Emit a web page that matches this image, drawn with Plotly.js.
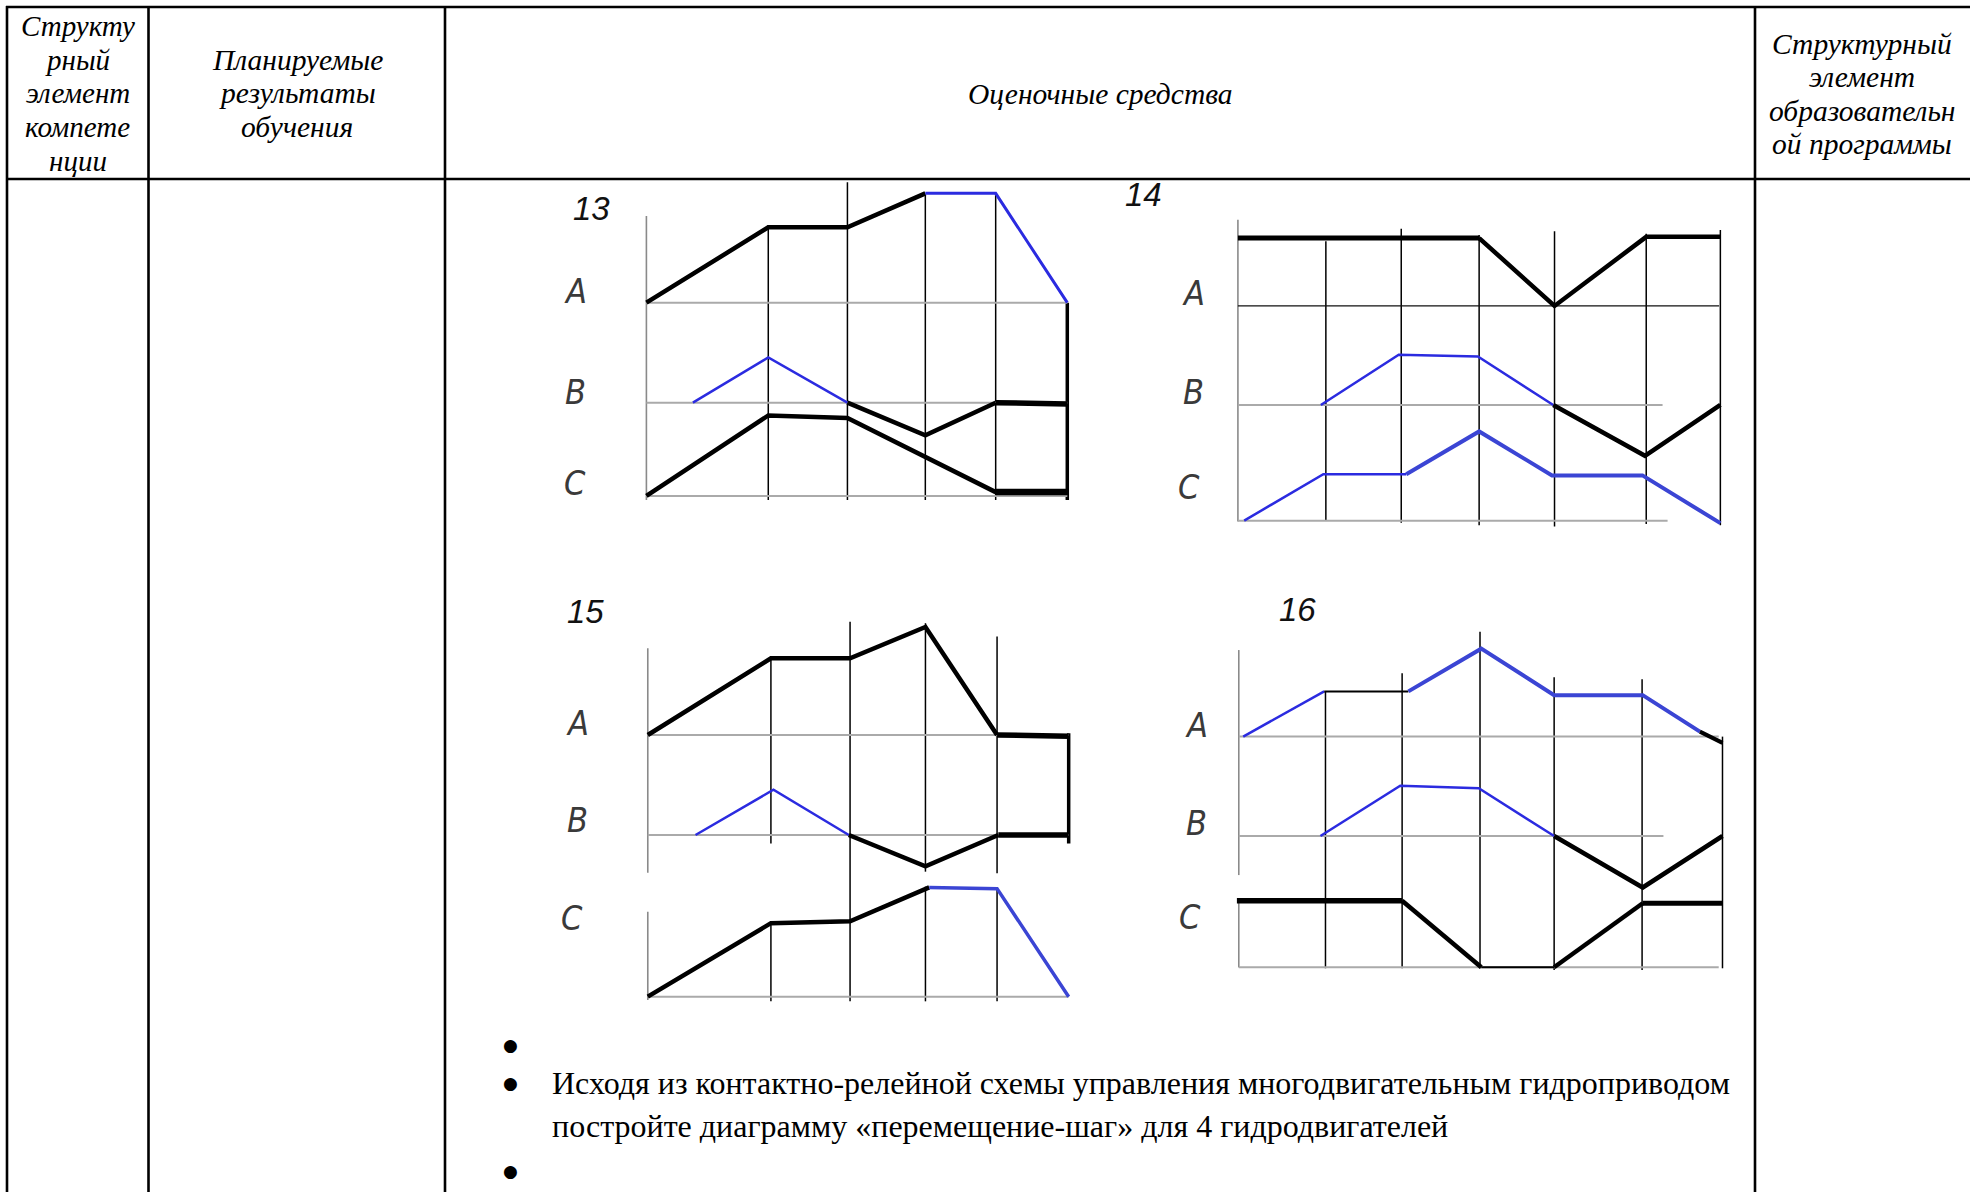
<!DOCTYPE html>
<html>
<head>
<meta charset="utf-8">
<script src="https://cdn.plot.ly/plotly-3.0.1.min.js"></script>
<style>html,body{margin:0;padding:0;background:#fff;}#chart{width:1970px;height:1192px;}</style>
</head>
<body>
<div id="chart"></div>
<script>
// ---------------- DATA ----------------
// Table header texts
const headerCol1 = ["Структу", "рный", "элемент", "компете", "нции"];
const headerCol2 = ["Планируемые", "результаты", "обучения"];
const headerCol3 = ["Оценочные средства"];
const headerCol4 = ["Структурный", "элемент", "образовательн", "ой программы"];
const taskLines = ["Исходя из контактно-релейной схемы управления многодвигательным гидроприводом",
                   "постройте диаграмму «перемещение-шаг» для 4 гидродвигателей"];
const diagramNames = ["13", "14", "15", "16"];
const rowNames = ["A", "B", "C"];

// Diagram 13 (step positions / displacements)
const d13_steps = [97, 160, 222, 278, 335];
const d13_A_x = [0, 97, 160, 222, 278, 335];
const d13_A_y = [0, 60, 60, 87, 87, 0];
const d13_B_x = [37, 97, 160, 222, 278, 335];
const d13_B_y = [0, 36, 0, -26, 0, -1];
const d13_C_x = [0, 97, 160, 278, 335];
const d13_C_y = [0, 64, 62, 3, 3];

// Diagram 14
const d14_steps = [70, 130, 192, 252, 325, 384];
const d14_A_x = [0, 192, 252, 325, 384];
const d14_A_y = [54, 54, 0, 55, 55];
const d14_B_x = [66, 128, 191, 251, 324, 384];
const d14_B_y = [0, 40, 38.5, 0, -40.5, 0];
const d14_C_x = [5, 68, 134, 192, 250, 322, 384];
const d14_C_y = [0, 37, 37, 71, 36, 36, -2];

// Diagram 15
const d15_steps = [98, 161, 221, 278, 335];
const d15_A_x = [0, 98, 161, 221, 278, 335];
const d15_A_y = [0, 61, 61, 86, 0, -1];
const d15_B_x = [38, 100, 160, 221, 279, 335];
const d15_B_y = [0, 36, 0, -25, 0, 0];
const d15_C_x = [0, 98, 161, 224, 278, 335];
const d15_C_y = [0, 58.5, 60, 87, 86, 0];

// Diagram 16
const d16_steps = [69, 130, 192, 251, 321, 385];
const d16_A_x = [3.5, 68, 135, 193, 251, 321.5, 367, 385];
const d16_A_y = [0, 36, 36, 70, 33, 33, 4, -5];
const d16_B_x = [65, 128.5, 191, 251, 321.5, 385];
const d16_B_y = [0, 40, 38, 0, -41, 0];
const d16_C_x = [-1.5, 130, 193, 251, 321.5, 385];
const d16_C_y = [53, 53, 0, 0, 51, 51];

// ---------------- STYLE / LAYOUT GEOMETRY ----------------
const BLUE = '#2b2be0', BLUE2 = '#3b45d4', BLACK = '#000000';
const W = 1970, H = 1192, K = 1970 / 1568;
const fx = s => s * K / W;          // reference units -> paper x
const fy = s => 1 - s * K / H;      // reference units -> paper y
const gx = p => p / W;              // page px -> paper x
const gy = p => 1 - p / H;          // page px -> paper y

// runs: [startIndex, endIndex, colour, width]
const diagrams = [
  { name: diagramNames[0], steps: d13_steps,
    rows: [ {x: d13_A_x, y: d13_A_y, runs: [[0,3,BLACK,4.5],[3,5,BLUE,3]]},
            {x: d13_B_x, y: d13_B_y, runs: [[0,2,BLUE,2.5],[2,4,BLACK,4.5],[4,5,BLACK,5.5]]},
            {x: d13_C_x, y: d13_C_y, runs: [[0,3,BLACK,4.5],[3,4,BLACK,6.5]]} ],
    x0: 514.5, base: [240.9, 320.5, 394.7], box: [440, 878, 143, 420],
    axis: [[172, 398]],
    stepSeg: [[[179,398]], [[145,398]], [[155,398]], [[154,398]], [[241,398]]],
    stepW: [1.5, 1.5, 1.5, 1.5, 3.5],
    baseEnd: [335, 335, 335], baseCol: ['#aaaaaa','#aaaaaa','#aaaaaa'],
    label: [470.5, 165.8], letters: [[458,232],[458,311.7],[458,384.6]] },
  { name: diagramNames[1], steps: d14_steps,
    rows: [ {x: d14_A_x, y: d14_A_y, runs: [[0,1,BLACK,5],[1,4,BLACK,4.5]]},
            {x: d14_B_x, y: d14_B_y, runs: [[0,3,BLUE,2.5],[3,5,BLACK,4.5]]},
            {x: d14_C_x, y: d14_C_y, runs: [[0,2,BLUE,2.5],[2,6,BLUE2,4]]} ],
    x0: 985.3, base: [243.5, 322.3, 414.4], box: [878, 1392, 143, 430],
    axis: [[175, 415]],
    stepSeg: [[[192,414]], [[182,416]], [[187,418]], [[184,419]], [[186,417]], [[183,418]]],
    stepW: [1.5, 1.5, 1.5, 1.5, 1.5, 1.5],
    baseEnd: [383, 338, 342], baseCol: ['#111111','#aaaaaa','#aaaaaa'],
    label: [910, 155], letters: [[950.2,233.4],[950.2,311.7],[946,387.3]] },
  { name: diagramNames[2], steps: d15_steps,
    rows: [ {x: d15_A_x, y: d15_A_y, runs: [[0,4,BLACK,4.5],[4,5,BLACK,5.5]]},
            {x: d15_B_x, y: d15_B_y, runs: [[0,2,BLUE,2.5],[2,4,BLACK,4.5],[4,5,BLACK,5.5]]},
            {x: d15_C_x, y: d15_C_y, runs: [[0,3,BLACK,4.5],[3,5,BLUE2,3.5]]} ],
    x0: 515.6, base: [585, 664.6, 793.3], box: [440, 878, 466, 808],
    axis: [[516, 694.6], [725.6, 796]],
    stepSeg: [[[524,671.3],[735,797]], [[494.8,797]], [[496,693.8],[705.7,797]], [[506.7,695],[708,797]], [[583.7,671.3]]],
    stepW: [1.5, 1.5, 1.5, 1.5, 3.5],
    baseEnd: [335, 335, 335], baseCol: ['#aaaaaa','#aaaaaa','#aaaaaa'],
    label: [466, 486.9], letters: [[459.6,575.7],[459.6,652.7],[455.4,730.9]] },
  { name: diagramNames[3], steps: d16_steps,
    rows: [ {x: d16_A_x, y: d16_A_y, runs: [[0,1,BLUE,2.5],[1,2,BLACK,2],[2,6,BLUE2,4],[6,7,BLACK,4]]},
            {x: d16_B_x, y: d16_B_y, runs: [[0,3,BLUE,2.5],[3,5,BLACK,4.5]]},
            {x: d16_C_x, y: d16_C_y, runs: [[0,1,BLACK,5.5],[1,2,BLACK,4.5],[2,3,BLACK,2],[3,4,BLACK,4.5],[4,5,BLACK,5]]} ],
    x0: 986, base: [586.3, 665.4, 769.9], box: [878, 1392, 466, 800],
    axis: [[517.4, 696.5], [716, 770]],
    stepSeg: [[[550.5,770.7]], [[535.9,770.7]], [[502.8,770.7]], [[539.1,772]], [[540.7,772]], [[586.3,770.7]]],
    stepW: [1.5, 1.5, 1.5, 1.5, 1.5, 1.5],
    baseEnd: [382, 338, 382], baseCol: ['#aaaaaa','#aaaaaa','#aaaaaa'],
    label: [1033, 485.5], letters: [[952.7,577],[952.7,655.3],[946.9,729.6]] }
];

// ---------------- BUILD ----------------
const traces = [];
const shapes = [];
const annotations = [];
const layout = {
  width: W, height: H, margin: {l:0, r:0, t:0, b:0},
  paper_bgcolor: '#ffffff', plot_bgcolor: 'rgba(0,0,0,0)',
  showlegend: false, hovermode: false
};
const axBase = {visible: false, showgrid: false, zeroline: false, fixedrange: true};

diagrams.forEach((d, i) => {
  const xn = i === 0 ? 'xaxis' : 'xaxis' + (i + 1);
  const xr = i === 0 ? 'x' : 'x' + (i + 1);
  const [xL, xR, yT, yB] = d.box;
  const yRefs = [];
  d.rows.forEach((row, r) => {
    const j = i * 3 + r;
    const yn = j === 0 ? 'yaxis' : 'yaxis' + (j + 1);
    const yr = j === 0 ? 'y' : 'y' + (j + 1);
    yRefs.push(yr);
    const ax = Object.assign({}, axBase, {
      domain: [fy(yB), fy(yT)],
      range: [d.base[r] - yB, d.base[r] - yT],
      anchor: xr
    });
    if (r > 0) ax.overlaying = yRefs[0];
    layout[yn] = ax;
    // baseline
    shapes.push({type: 'line', xref: xr, yref: yr, x0: 0, x1: d.baseEnd[r], y0: 0, y1: 0,
                 line: {color: d.baseCol[r], width: d.baseCol[r] === '#111111' ? 1.3 : 2}, layer: 'below'});
    // line runs
    row.runs.forEach(run => {
      const [a, b, col, w] = run;
      traces.push({type: 'scatter', mode: 'lines', xaxis: xr, yaxis: yr,
        x: row.x.slice(a, b + 1), y: row.y.slice(a, b + 1),
        line: {color: col, width: w}, hoverinfo: 'skip', showlegend: false});
    });
    // row letter
    annotations.push({xref: 'paper', yref: 'paper', x: fx(d.letters[r][0]), y: fy(d.letters[r][1]),
      xanchor: 'center', yanchor: 'middle', showarrow: false, text: '<i>' + rowNames[r] + '</i>',
      font: {family: 'Liberation Sans Narrow, DejaVu Sans Condensed, Liberation Sans, sans-serif', size: 34, color: '#3a3a3a'}});
  });
  layout[xn] = Object.assign({}, axBase, {
    domain: [fx(xL), fx(xR)], range: [xL - d.x0, xR - d.x0], anchor: yRefs[0]
  });
  // vertical axis line at step 0
  d.axis.forEach(seg => shapes.push({type: 'line', xref: xr, yref: 'paper', x0: 0, x1: 0,
    y0: fy(seg[0]), y1: fy(seg[1]), line: {color: '#8a8a8a', width: 1.6}, layer: 'below'}));
  // step lines
  d.steps.forEach((s, k) => d.stepSeg[k].forEach(seg => shapes.push({type: 'line', xref: xr, yref: 'paper',
    x0: s, x1: s, y0: fy(seg[0]), y1: fy(seg[1]), line: {color: '#000', width: d.stepW[k]}, layer: 'below'})));
  // diagram number
  annotations.push({xref: 'paper', yref: 'paper', x: fx(d.label[0]), y: fy(d.label[1]),
    xanchor: 'center', yanchor: 'middle', showarrow: false, text: '<i>' + d.name + '</i>',
    font: {family: 'Liberation Sans, Arial, sans-serif', size: 33, color: '#111'}});
});

// table grid
const tl = {color: '#000', width: 2.6};
shapes.push({type: 'line', xref: 'paper', yref: 'paper', x0: gx(6), x1: 1, y0: gy(7), y1: gy(7), line: tl});
shapes.push({type: 'line', xref: 'paper', yref: 'paper', x0: gx(6), x1: 1, y0: gy(179), y1: gy(179), line: tl});
[7, 148.5, 445, 1755].forEach(x => shapes.push({type: 'line', xref: 'paper', yref: 'paper',
  x0: gx(x), x1: gx(x), y0: gy(6), y1: 0, line: tl}));

// header texts
const serif = 'Liberation Serif, Times New Roman, serif';
function addLines(lines, cx, ys, italic, size) {
  lines.forEach((t, k) => annotations.push({xref: 'paper', yref: 'paper', x: gx(cx), y: gy(ys[k]),
    xanchor: 'center', yanchor: 'middle', showarrow: false, text: italic ? '<i>' + t + '</i>' : t,
    font: {family: serif, size: size, color: '#000'}}));
}
addLines(headerCol1, 77.5, [26, 60, 93, 127, 161], true, 29);
addLines(headerCol2, 297, [60, 93, 127], true, 29.5);
addLines(headerCol3, 1100, [94], true, 29.5);
addLines(headerCol4, 1862, [44, 77, 110.5, 144], true, 29.5);

// bullets and task text
[1045, 1083, 1171].forEach(y => annotations.push({xref: 'paper', yref: 'paper', x: gx(510), y: gy(y),
  xanchor: 'center', yanchor: 'middle', showarrow: false, text: '●',
  font: {family: 'DejaVu Sans, sans-serif', size: 17, color: '#000'}}));
taskLines.forEach((t, k) => annotations.push({xref: 'paper', yref: 'paper', x: gx(550), y: gy([1083, 1126][k]),
  xanchor: 'left', yanchor: 'middle', showarrow: false, text: t,
  font: {family: serif, size: 32, color: '#000'}}));

layout.shapes = shapes;
layout.annotations = annotations;

Plotly.newPlot('chart', traces, layout, {displayModeBar: false, staticPlot: true});
</script>
</body>
</html>
